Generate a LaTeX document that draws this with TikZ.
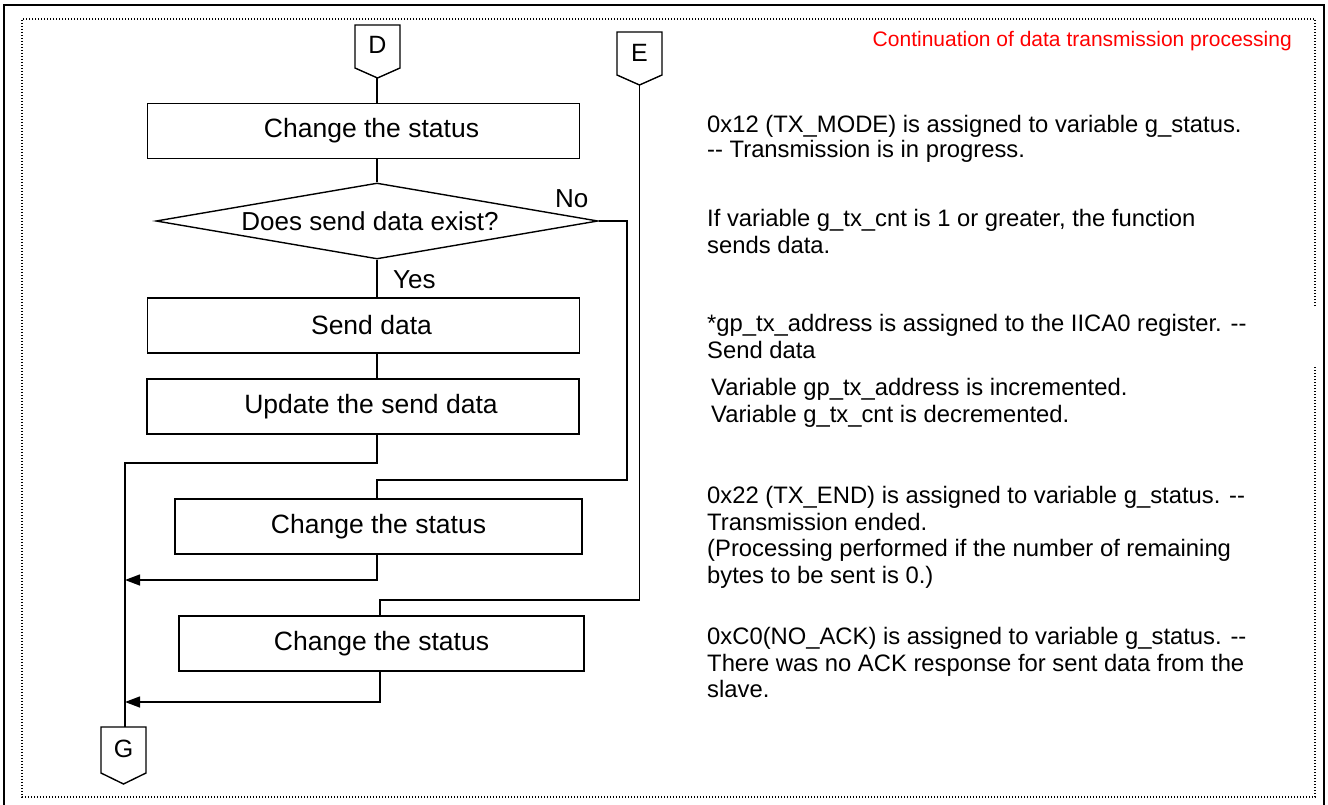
\documentclass[tikz,border=0pt]{standalone}
\usepackage{fontspec}
\setmainfont{Liberation Sans}
\usetikzlibrary{shapes.geometric,arrows.meta}
\tikzset{
 flow/.style={line width=1.4pt},
 boxn/.style={draw, line width=1.4pt, rectangle, inner sep=0pt, font=\fontsize{26.5}{28}\selectfont},
 decision/.style={draw, line width=1.4pt, diamond, aspect=5.8, inner sep=0pt, font=\fontsize{26}{28}\selectfont},
 rtext/.style={anchor=base west, inner sep=0pt, font=\fontsize{23.8}{24}\selectfont},
 lbl/.style={anchor=base west, inner sep=0pt, font=\fontsize{26}{28}\selectfont},
 offpage/.style={line width=1.4pt},
 letter/.style={inner sep=0pt, font=\fontsize{25}{25}\selectfont},
 arr/.style={flow, -{Triangle[length=15pt,width=11pt]}},
 frame/.style={line width=1.3pt, dash pattern=on 1.3pt off 1.7pt},
}
\begin{document}
\begin{tikzpicture}[x=1pt,y=-1pt]
\useasboundingbox (0,0) rectangle (1328,805);
\fill[white] (0,0) rectangle (1328,805);
% frames
\draw[line width=2.2pt] (4,806) -- (4,5) -- (1324,5) -- (1324,806);
\draw[frame] (1315,306) -- (1315,19) -- (22,19) -- (22,797) -- (1315,797) -- (1315,366);
% title
\node[anchor=base east, text=red, inner sep=0pt, font=\fontsize{21}{21}\selectfont] (title) at (1292,47) {Continuation of data transmission processing};
% off-page connectors
\draw[offpage] (355,25) -- (400,25) -- (400,68) -- (377.5,78) -- (355,68) -- cycle;
\node[letter] (D) at (377.5,45) {D};
\coordinate (Dtip) at (377,78);
\draw[offpage] (617,32) -- (662,32) -- (662,75) -- (639.5,85) -- (617,75) -- cycle;
\node[letter] (E) at (639.5,53) {E};
\coordinate (Etip) at (639.5,85);
\draw[offpage] (101,727) -- (146,727) -- (146,773) -- (123.5,784) -- (101,773) -- cycle;
\node[letter] (G) at (123.5,749) {G};
\coordinate (Gtop) at (125,727);
% boxes
\node[boxn, minimum width=432pt, minimum height=55pt] (b1) at (363.5,131) {\hspace*{16pt}Change the status};
\node[decision, minimum width=442pt, minimum height=76pt] (dia) at (377,221) {\hspace*{-14pt}\raisebox{-3pt}{Does send data exist?}};
\node[boxn, minimum width=432pt, minimum height=55pt] (b2) at (363.5,325.5) {\hspace*{16pt}Send data};
\node[boxn, minimum width=432pt, minimum height=55pt] (b3) at (363,406.5) {\hspace*{16pt}Update the send data};
\node[boxn, minimum width=407pt, minimum height=55pt] (b4) at (378.5,526.5) {Change the status};
\node[boxn, minimum width=405pt, minimum height=55pt] (b5) at (381.5,643.5) {Change the status};
% labels
\node[lbl] (no) at (555,208) {No};
\node[lbl] (yes) at (393,288) {Yes};
% connectors
\coordinate (j1) at (125,463);
\coordinate (n1) at (627,221);
\coordinate (n2) at (627,480);
\coordinate (e1) at (639.5,600);
\coordinate (e2) at (380,600);
\coordinate (e3) at (380,702);
\coordinate (a1) at (125,580);
\coordinate (a2) at (125,702);
\draw[flow] (Dtip) -- (Dtip |- b1.north);
\draw[flow] (Dtip |- b1.south) -- (dia.north);
\draw[flow] (dia.south) -- (dia.south |- b2.north);
\draw[flow] (dia.south |- b2.south) -- (dia.south |- b3.north);
\draw[flow] (dia.south |- b3.south) -- (dia.south |- j1) -- (j1) -- (Gtop);
\draw[flow] (dia.east) -- (n1) -- (n2) -- (n2 -| dia.south) -- (dia.south |- b4.north);
\draw[arr] (dia.south |- b4.south) -- (dia.south |- a1) -- (a1);
\draw[flow] (Etip) -- (e1) -- (e2) -- (e2 |- b5.north);
\draw[arr] (e2 |- b5.south) -- (e3) -- (a2);
% right texts
\node[rtext] (t1a) at (707,133) {0x12 (TX\_MODE) is assigned to variable g\_status.};
\node[rtext] (t1b) at (707,158) {-{}- Transmission is in progress.};
\node[rtext] (t2a) at (707,227) {If variable g\_tx\_cnt is 1 or greater, the function};
\node[rtext] (t2b) at (707,254) {sends data.};
\node[rtext] (t3a) at (707,331) {*gp\_tx\_address is assigned to the IICA0 register. -{}-};
\node[rtext] (t3b) at (707,358) {Send data};
\node[rtext] (t4a) at (711,395) {Variable gp\_tx\_address is incremented.};
\node[rtext] (t4b) at (711,422) {Variable g\_tx\_cnt is decremented.};
\node[rtext] (t5a) at (707,503) {0x22 (TX\_END) is assigned to variable g\_status. -{}-};
\node[rtext] (t5b) at (707,530) {Transmission ended.};
\node[rtext] (t5c) at (707,556) {(Processing performed if the number of remaining};
\node[rtext] (t5d) at (707,583) {bytes to be sent is 0.)};
\node[rtext] (t6a) at (707,644) {0xC0(NO\_ACK) is assigned to variable g\_status. -{}-};
\node[rtext] (t6b) at (707,671) {There was no ACK response for sent data from the};
\node[rtext] (t6c) at (707,697) {slave.};
\end{tikzpicture}
\end{document}
